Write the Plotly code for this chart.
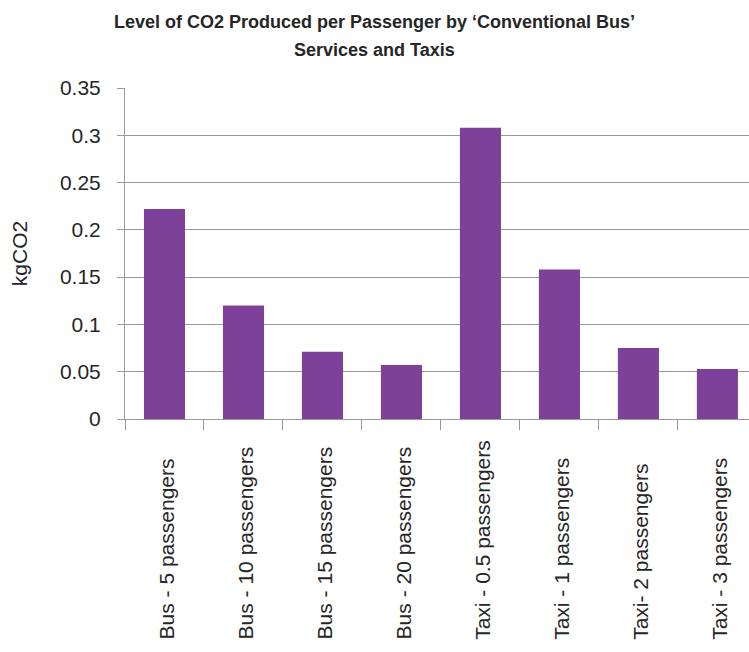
import plotly.graph_objects as go

categories = ["Bus - 5 passengers", "Bus - 10 passengers", "Bus - 15 passengers",
              "Bus - 20 passengers", "Taxi - 0.5 passengers", "Taxi - 1 passengers",
              "Taxi- 2 passengers", "Taxi - 3 passengers"]
values = [0.222, 0.120, 0.071, 0.057, 0.308, 0.158, 0.075, 0.053]

title_line1 = "Level of CO2 Produced per Passenger by \u2018Conventional Bus\u2019"
title_line2 = "Services and Taxis"
y_title = "kgCO2"

FONT = "Liberation Sans, Arial, Helvetica, sans-serif"
TXT = "#262626"
GRID = "#999999"

fig = go.Figure()
fig.add_trace(go.Bar(x=categories, y=values, marker_color="#7d4199",
                     marker_line_width=0, showlegend=False))

# rotated category labels, bottom-aligned like the original
for c in categories:
    fig.add_annotation(x=c, xref="x", y=-0.672, yref="paper", text=c,
                       textangle=-90, showarrow=False, xanchor="center",
                       yanchor="bottom", xshift=2,
                       font=dict(family=FONT, size=21, color=TXT))

# second title line
fig.add_annotation(x=0.5, xref="paper", y=(419 - 50) / 331, yref="paper",
                   text=title_line2, showarrow=False, xanchor="center",
                   yanchor="middle", xshift=374.5 - (125 + 624 / 2),
                   font=dict(family=FONT, size=18, color=TXT, weight="bold"))

fig.update_layout(
    width=749, height=652,
    margin=dict(l=125, r=0, t=88, b=233, pad=0),
    paper_bgcolor="white", plot_bgcolor="white",
    bargap=0.48,
    font=dict(family=FONT, size=21, color=TXT),
    title=dict(text=title_line1, x=0.5, xref="container", xanchor="center",
               y=1 - 22 / 652, yref="container", yanchor="middle",
               font=dict(family=FONT, size=18, color=TXT, weight="bold")),
    xaxis=dict(type="category", range=[-0.5, 7.4], showticklabels=False,
               tickson="boundaries", ticks="outside", ticklen=10,
               tickcolor=GRID, tickwidth=1, showline=True, linecolor=GRID,
               linewidth=1, showgrid=False, zeroline=False),
    yaxis=dict(range=[0, 0.35], dtick=0.05, tick0=0, ticks="outside", ticklen=7,
               tickcolor=GRID, tickwidth=1, showline=True, linecolor=GRID,
               linewidth=1, showgrid=True, gridcolor=GRID, gridwidth=1,
               zeroline=False, ticklabelstandoff=12,
               tickfont=dict(family=FONT, size=21, color=TXT),
               title=dict(text=y_title, standoff=26,
                          font=dict(family=FONT, size=21, color=TXT))),
)

fig.write_html("out.html")
